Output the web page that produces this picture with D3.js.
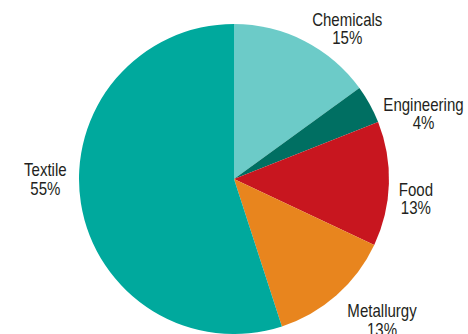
<!DOCTYPE html>
<html>
<head>
<meta charset="utf-8">
<script src="https://cdn.jsdelivr.net/npm/d3@7"></script>
<style>
	html, body { margin: 0; padding: 0; background: #fff; }
	svg { display: block; }
	.lbl { font-family: "Liberation Sans", Arial, sans-serif; font-size: 17.5px; fill: #231f20; }
</style>
</head>
<body>
<svg id="chart" width="468" height="334"></svg>
<script>
// sectors, clockwise from 12 o'clock
var sectors = ["Chemicals", "Engineering", "Food", "Metallurgy", "Textile"];
var shares = [15, 4, 13, 13, 55];
var colours = ["#6ccbc8", "#006f62", "#c8161f", "#e8851e", "#00a99d"];

+function(){
	var cx = 234, cy = 179, radius = 155;

	// label nudges, relative to the outer-arc centroid
	var nudge = {
		"Chemicals":   [27, 16],
		"Engineering": [23, 23.5],
		"Food":        [-8, 11],
		"Metallurgy":  [22.4, -4.5],
		"Textile":     [-1, -32.7]
	};

	var svg = d3.select("#chart");
	var g = svg.append("g").attr("transform", "translate(" + cx + "," + cy + ")");

	var rows = sectors.map(function(s, i){
		return { name: s, value: shares[i], color: colours[i] };
	});

	var pie = d3.pie().sort(null).value(function(d){ return d.value; });
	var arc = d3.arc().innerRadius(0).outerRadius(radius);
	var outer = d3.arc().innerRadius(190).outerRadius(190);

	var arcs = pie(rows);

	g.selectAll("path.slice")
		.data(arcs)
		.enter()
		.append("path")
		.attr("class", "slice")
		.attr("d", arc)
		.attr("fill", function(d){ return d.data.color; });

	// no narrow face installed, so squeeze the text a bit
	var lbl = g.selectAll("text.lbl")
		.data(arcs)
		.enter()
		.append("text")
		.attr("class", "lbl")
		.attr("text-anchor", "middle")
		.attr("transform", function(d){
			var c = outer.centroid(d);
			var n = nudge[d.data.name] || [0, 0];
			return "translate(" + (c[0] + n[0]) + "," + (c[1] + n[1]) + ") scale(0.86,1)";
		});

	lbl.append("tspan")
		.attr("x", 0)
		.attr("y", 0)
		.text(function(d){ return d.data.name; });
	lbl.append("tspan")
		.attr("x", 0)
		.attr("y", 18.5)
		.text(function(d){ return d.data.value + "%"; });
}();
</script>
</body>
</html>
